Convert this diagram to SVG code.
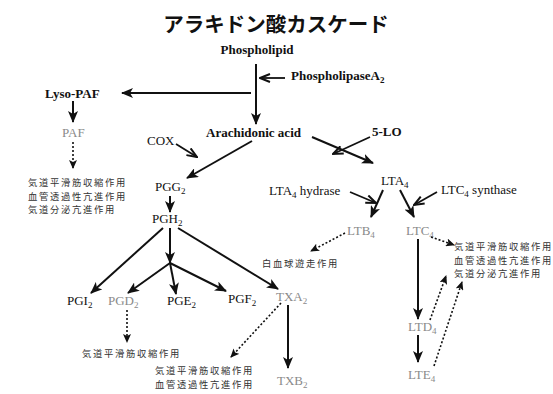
<svg xmlns="http://www.w3.org/2000/svg" width="553" height="394" viewBox="0 0 553 394">
<defs>
<marker id="ah" markerWidth="12" markerHeight="10" refX="11" refY="5" orient="auto" markerUnits="userSpaceOnUse">
<path d="M0,0 L12,5 L0,10 L3,5 Z" fill="#111"/>
</marker>
<marker id="ahs" markerWidth="9" markerHeight="8" refX="8" refY="4" orient="auto" markerUnits="userSpaceOnUse">
<path d="M0,0 L9,4 L0,8 L2,4 Z" fill="#111"/>
</marker>
<marker id="ao" markerWidth="12" markerHeight="10" refX="11" refY="5" orient="auto" markerUnits="userSpaceOnUse">
<path d="M1,1 L11,5 L1,9" fill="none" stroke="#111" stroke-width="2"/>
</marker>
<style>
.t{font-family:'Liberation Serif','Times New Roman',serif;font-size:13px;fill:#111}
.b{font-weight:bold}
.g{fill:#8a8a8a}
.j{font-family:'Noto Sans CJK JP',sans-serif;font-size:9.3px;letter-spacing:1.7px;fill:#333}
.s{stroke:#111;stroke-width:2;fill:none;marker-end:url(#ah)}
.e{stroke:#111;stroke-width:1.8;fill:none;marker-end:url(#ao)}
.d{stroke:#111;stroke-width:1.6;stroke-dasharray:2 2;fill:none;marker-end:url(#ahs)}
</style>
</defs>
<rect width="553" height="394" fill="#fff"/>
<text x="276" y="32" text-anchor="middle" font-family="'Noto Sans CJK JP',sans-serif" font-size="20.5" font-weight="bold" fill="#111">アラキドン酸カスケード</text>

<g id="phospholipid"><text class="t b" x="257" y="54" text-anchor="middle">Phospholipid</text></g>
<g id="pla2"><text class="t b" x="291" y="80">PhospholipaseA<tspan font-size="9" dy="3">2</tspan></text></g>
<g id="lysopaf"><text class="t b" x="45" y="98">Lyso-PAF</text></g>
<g id="paf"><text class="t g" x="62" y="137">PAF</text></g>
<g id="paf-eff"><text class="j" x="28" y="186">気道平滑筋収縮作用</text><text class="j" x="28" y="199.5">血管透過性亢進作用</text><text class="j" x="28" y="213">気道分泌亢進作用</text></g>
<g id="cox"><text class="t" x="147" y="145">COX</text></g>
<g id="aa"><text class="t b" x="206" y="137">Arachidonic acid</text></g>
<g id="lo5"><text class="t b" x="372" y="136">5-LO</text></g>
<g id="pgg2"><text class="t" x="155" y="191">PGG<tspan font-size="9" dy="3">2</tspan></text></g>
<g id="pgh2"><text class="t" x="152" y="223">PGH<tspan font-size="9" dy="3">2</tspan></text></g>
<g id="pgi2"><text class="t" x="67" y="305">PGI<tspan font-size="9" dy="3">2</tspan></text></g>
<g id="pgd2"><text class="t g" x="108" y="305">PGD<tspan font-size="9" dy="3">2</tspan></text></g>
<g id="pge2"><text class="t" x="167" y="305">PGE<tspan font-size="9" dy="3">2</tspan></text></g>
<g id="pgf2"><text class="t" x="228" y="303">PGF<tspan font-size="9" dy="3">2</tspan></text></g>
<g id="txa2"><text class="t g" x="276" y="301">TXA<tspan font-size="9" dy="3">2</tspan></text></g>
<g id="txb2"><text class="t g" x="277" y="385">TXB<tspan font-size="9" dy="3">2</tspan></text></g>
<g id="pgd2-eff"><text class="j" x="82" y="357">気道平滑筋収縮作用</text></g>
<g id="txa2-eff"><text class="j" x="155" y="374">気道平滑筋収縮作用</text><text class="j" x="155" y="388">血管透過性亢進作用</text></g>
<g id="lta4"><text class="t" x="381" y="185">LTA<tspan font-size="9" dy="3">4</tspan></text></g>
<g id="lta4h"><text class="t" x="269" y="195">LTA<tspan font-size="9" dy="3">4</tspan><tspan dy="-3"> hydrase</tspan></text></g>
<g id="ltc4s"><text class="t" x="441" y="194">LTC<tspan font-size="9" dy="3">4</tspan><tspan dy="-3"> synthase</tspan></text></g>
<g id="ltb4"><text class="t g" x="347" y="235">LTB<tspan font-size="9" dy="3">4</tspan></text></g>
<g id="ltc4"><text class="t g" x="406" y="235">LTC<tspan font-size="9" dy="3">4</tspan></text></g>
<g id="ltb4-eff"><text class="j" x="262" y="267">白血球遊走作用</text></g>
<g id="ltc4-eff"><text class="j" x="454" y="250">気道平滑筋収縮作用</text><text class="j" x="454" y="263.5">血管透過性亢進作用</text><text class="j" x="454" y="277">気道分泌亢進作用</text></g>
<g id="ltd4"><text class="t g" x="408" y="331">LTD<tspan font-size="9" dy="3">4</tspan></text></g>
<g id="lte4"><text class="t g" x="408" y="379">LTE<tspan font-size="9" dy="3">4</tspan></text></g>

<g id="connectors">
<path class="s" d="M256,64 V124"/>
<path class="e" d="M285,78 H260"/>
<path class="s" d="M251,93 H122"/>
<path class="s" d="M73,101 V122"/>
<path class="d" d="M73,142 V168"/>
<path class="e" d="M176,144 L197,157"/>
<path class="s" d="M252,141 L187,178"/>
<path class="s" d="M170,196 V212"/>
<path class="s" d="M163,228 L91,293"/>
<path class="s" d="M170,228 V263"/>
<path class="s" d="M170,263 L128,293"/>
<path class="s" d="M170,263 L176,294"/>
<path class="s" d="M170,263 L226,291"/>
<path class="s" d="M178,228 L278,289"/>
<path class="d" d="M127,310 V342"/>
<path class="d" d="M281,303 L231,357"/>
<path class="s" d="M288,305 V368"/>
<path class="e" d="M370,137 L333,154"/>
<path class="s" d="M312,137 L373,163"/>
<path class="e" d="M350,192 L376,203"/>
<path class="e" d="M437,192 L414,205"/>
<path class="s" d="M383,190 L371,217"/>
<path class="s" d="M400,190 L414,217"/>
<path class="d" d="M345,233 L311,251"/>
<path class="d" d="M431,237 L454,245"/>
<path class="s" d="M418,239 V319"/>
<path class="s" d="M418,335 V362"/>
<path class="d" d="M430,320 L446,276"/>
<path class="d" d="M434,366 L462,282"/>
</g>
</svg>
